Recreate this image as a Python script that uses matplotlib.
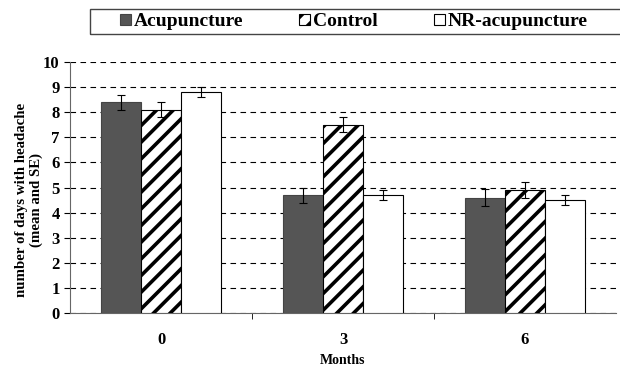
import matplotlib.pyplot as plt
import matplotlib.patches as mpatches
import numpy as np

plt.rcParams['font.family'] = ['Liberation Serif', 'DejaVu Serif']
plt.rcParams['font.weight'] = 'bold'
plt.rcParams['hatch.linewidth'] = 2.6

months = ['0', '3', '6']
groups = ['Acupuncture', 'Control', 'NR-acupuncture']
acupuncture = [8.4, 4.7, 4.6]
control = [8.1, 7.5, 4.9]
nr_acupuncture = [8.8, 4.7, 4.5]
acupuncture_se = [0.3, 0.3, 0.35]
control_se = [0.3, 0.3, 0.3]
nr_acupuncture_se = [0.2, 0.2, 0.2]

fig = plt.figure(figsize=(6.2, 3.66), dpi=100)
ax = fig.add_axes([70 / 620, 1 - 313 / 366, 546 / 620, 251 / 366])

x = np.arange(len(months))
w = 0.22
err_kw = dict(ecolor='black', elinewidth=0.8, capsize=3, capthick=0.8)

ax.bar(x - w, acupuncture, w, yerr=acupuncture_se, color='#555555',
       edgecolor='#444444', linewidth=0.8, error_kw=err_kw, zorder=3,
       label=groups[0])
ax.bar(x, control, w, yerr=control_se, color='white', edgecolor='black',
       hatch='//', linewidth=0.8, error_kw=err_kw, zorder=3, label=groups[1])
ax.bar(x + w, nr_acupuncture, w, yerr=nr_acupuncture_se, color='white',
       edgecolor='black', linewidth=0.8, error_kw=err_kw, zorder=3,
       label=groups[2])

ax.set_xlim(-0.5, 2.5)
ax.set_ylim(0, 10)
ax.set_yticks(range(11))
ax.set_xticks(x)
ax.set_xticklabels(months)
ax.set_xticks([0.5, 1.5], minor=True)
ax.tick_params(axis='x', which='major', length=0, labelsize=12, pad=14)
ax.tick_params(axis='x', which='minor', length=4, direction='out')
ax.tick_params(axis='y', labelsize=12, length=4, direction='out')
ax.yaxis.grid(True, linestyle=(0, (5, 4)), color='black', linewidth=0.8)
ax.set_axisbelow(True)
for s in ['top', 'right']:
    ax.spines[s].set_visible(False)
ax.spines['left'].set_color('#666666')
ax.spines['bottom'].set_color('#666666')

ax.set_xlabel('Months', fontsize=10, fontweight='bold', labelpad=4)
ax.set_ylabel('number of days with headache\n(mean and SE)', fontsize=10.7,
              fontweight='bold', linespacing=1.15)
ax.yaxis.set_label_coords(-0.05, 0.45)

# legend box runs off the right edge, as in the original
fig.patches.append(mpatches.Rectangle((90 / 620, 1 - 34 / 366), 540 / 620, 25 / 366,
                                      transform=fig.transFigure, fill=False,
                                      edgecolor='#444444', linewidth=1.0))
leg = fig.legend(loc='center left', bbox_to_anchor=(114 / 620, 1 - 22 / 366),
                 ncol=3, frameon=False, fontsize=14, handlelength=0.55,
                 handleheight=0.55, handletextpad=0.15, borderaxespad=0,
                 borderpad=0.3, columnspacing=2.9)
for t in leg.get_texts():
    t.set_fontweight('bold')

fig.savefig('out.png', dpi=100)
